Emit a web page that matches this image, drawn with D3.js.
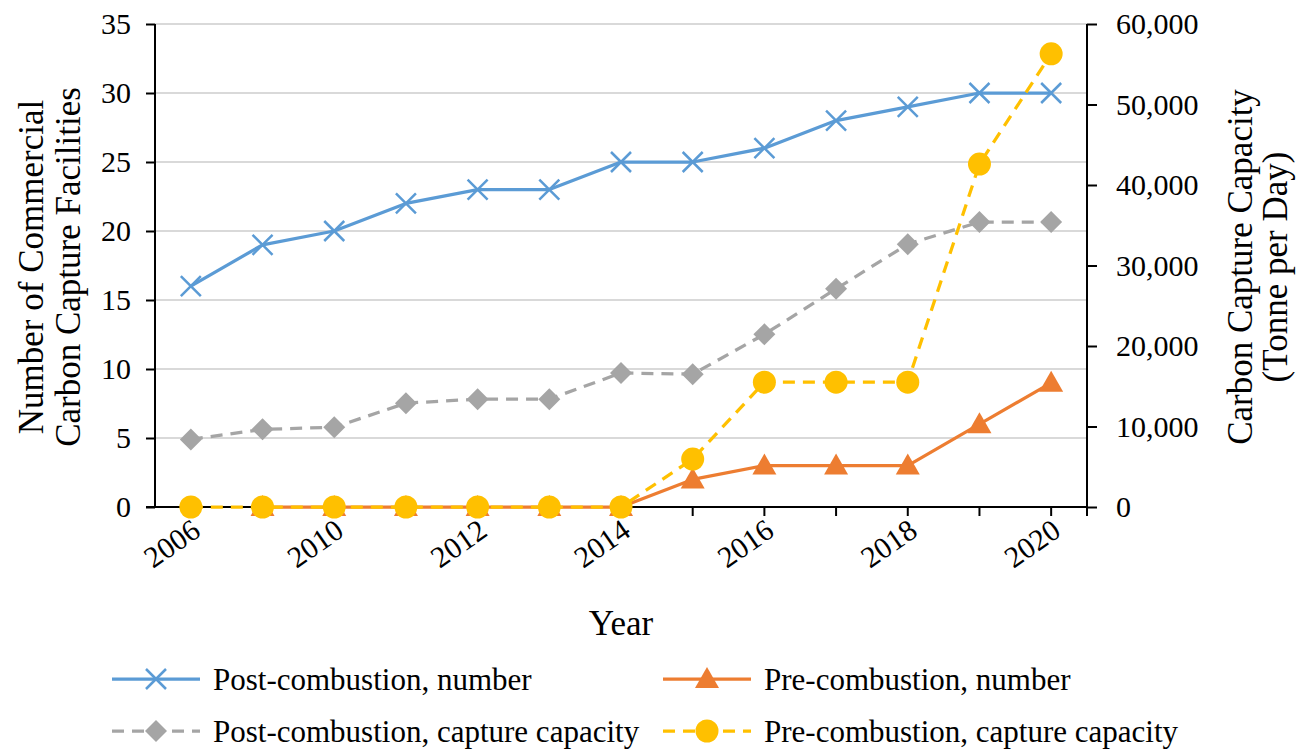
<!DOCTYPE html>
<html><head><meta charset="utf-8">
<script src="https://cdn.jsdelivr.net/npm/d3@7"></script>
<style>
body{margin:0;background:#fff}
text{font-family:"Liberation Serif","Times New Roman",serif;fill:#000}
</style>
</head><body>
<svg id="chart" width="1300" height="753"></svg>
<script>
// ---- data ----
const years = ["2006","2009","2010","2011","2012","2013","2014","2015","2016","2017","2018","2019","2020"];
const yearLabels = ["2006","2010","2012","2014","2016","2018","2020"];
const postNumber = [16,19,20,22,23,23,25,25,26,28,29,30,30];
const preNumber = [null,0,0,0,0,0,0,2,3,3,3,6,9];
const postCapacity = [8400,9650,9900,12900,13400,13400,16650,16500,21450,27100,32650,35400,35400];
const preCapacity = [0,0,0,0,0,0,0,5950,15500,15500,15500,42600,56300];
const leftTicks = [0,5,10,15,20,25,30,35];
const rightTicks = [0,10000,20000,30000,40000,50000,60000];
const seriesNames = ["Post-combustion, number","Pre-combustion, number","Post-combustion, capture capacity","Pre-combustion, capture capacity"];

// ---- layout ----
const svg = d3.select("#chart");
const L = 155, R = 1087, T = 24, B = 507;
const FS = 30, LFS = 31, TFS = 35;
const x = d3.scaleBand().domain(years).range([L, R]);
const cx = d => x(d) + x.bandwidth()/2;
const yL = d3.scaleLinear().domain([0,35]).range([B, T]);
const yR = d3.scaleLinear().domain([0,60000]).range([B, T]);

// gridlines
svg.append("g").selectAll("line").data(leftTicks.filter(d=>d>0)).join("line")
  .attr("x1", L).attr("x2", R).attr("y1", d=>yL(d)).attr("y2", d=>yL(d))
  .attr("stroke", "#d9d9d9").attr("stroke-width", 2);

// left axis
const gL = svg.append("g").attr("transform", `translate(${L},0)`)
  .call(d3.axisLeft(yL).tickValues(leftTicks).tickSize(9).tickPadding(15).tickFormat(d3.format("d")));
gL.select(".domain").attr("stroke","#000").attr("stroke-width",2).attr("d", `M0,${T}V${B}`);
gL.selectAll(".tick line").attr("stroke","#000").attr("stroke-width",2);
gL.selectAll(".tick text").style("font-size", FS+"px").style("font-family",'"Liberation Serif",serif').attr("fill","#000");

// right axis
const gR = svg.append("g").attr("transform", `translate(${R},0)`)
  .call(d3.axisRight(yR).tickValues(rightTicks).tickSize(10).tickPadding(19).tickFormat(d3.format(",")));
gR.select(".domain").attr("stroke","#000").attr("stroke-width",2).attr("d", `M0,${T}V${B}`);
gR.selectAll(".tick line").attr("stroke","#000").attr("stroke-width",2);
gR.selectAll(".tick text").style("font-size", FS+"px").style("font-family",'"Liberation Serif",serif').attr("fill","#000");

// x axis
const gX = svg.append("g").attr("transform", `translate(0,${B})`);
gX.append("line").attr("x1", L-9).attr("x2", R).attr("y1",0).attr("y2",0).attr("stroke","#000").attr("stroke-width",2);
gX.selectAll("line.tk").data(years).join("line").attr("class","tk")
  .attr("x1", d=>cx(d)).attr("x2", d=>cx(d)).attr("y1",0).attr("y2",9).attr("stroke","#000").attr("stroke-width",2);
gX.append("line").attr("x1", R).attr("x2", R).attr("y1",0).attr("y2",9).attr("stroke","#000").attr("stroke-width",2);
gX.selectAll("text").data(yearLabels).join("text")
  .attr("transform", d=>`translate(${cx(d)-1},10) rotate(-35)`)
  .attr("text-anchor","end").attr("dy","0.72em").style("font-size", FS+"px").text(d=>d);

// axis titles
svg.append("text").attr("x", 621).attr("y", 635).attr("text-anchor","middle").style("font-size",TFS+"px").text("Year");
const lt = svg.append("g").attr("transform","translate(0,267)");
lt.append("text").attr("transform","translate(43,0) rotate(-90)").attr("text-anchor","middle").style("font-size",TFS+"px").text("Number of Commercial");
lt.append("text").attr("transform","translate(80,0) rotate(-90)").attr("text-anchor","middle").style("font-size",TFS+"px").text("Carbon Capture Facilities");
const rt = svg.append("g").attr("transform","translate(0,267)");
rt.append("text").attr("transform","translate(1252,0) rotate(-90)").attr("text-anchor","middle").style("font-size",TFS+"px").text("Carbon Capture Capacity");
rt.append("text").attr("transform","translate(1287,0) rotate(-90)").attr("text-anchor","middle").style("font-size",TFS+"px").text("(Tonne per Day)");

// ---- series ----
const colors = ["#5b9bd5","#ed7d31","#a5a5a5","#ffc000"];
const dashes = [null,null,"12,8","12,8"];
const seriesData = [
  {vals: postNumber, y: yL, marker: "x"},
  {vals: preNumber, y: yL, marker: "tri"},
  {vals: postCapacity, y: yR, marker: "dia"},
  {vals: preCapacity, y: yR, marker: "circ"}
];
function drawMarker(g, type, color, px, py){
  if(type==="x"){
    g.append("path").attr("d",`M${px-10},${py-10}L${px+10},${py+10}M${px-10},${py+10}L${px+10},${py-10}`)
      .attr("stroke",color).attr("stroke-width",2.5).attr("fill","none");
  } else if(type==="tri"){
    g.append("path").attr("d",`M${px},${py-12}L${px+12},${py+9}L${px-12},${py+9}Z`).attr("fill",color);
  } else if(type==="dia"){
    g.append("path").attr("d",`M${px},${py-11}L${px+11},${py}L${px},${py+11}L${px-11},${py}Z`).attr("fill",color);
  } else {
    g.append("circle").attr("cx",px).attr("cy",py).attr("r",11.5).attr("fill",color);
  }
}
seriesData.forEach((s,i)=>{
  const g = svg.append("g");
  const pts = years.map((yr,j)=>({yr, v:s.vals[j]}));
  const line = d3.line().defined(d=>d.v!==null).x(d=>cx(d.yr)).y(d=>s.y(d.v));
  g.append("path").attr("d", line(pts)).attr("fill","none").attr("stroke",colors[i])
    .attr("stroke-width",3.25).attr("stroke-dasharray",dashes[i]).attr("stroke-linejoin","round");
  pts.filter(d=>d.v!==null).forEach(d=>drawMarker(g, s.marker, colors[i], cx(d.yr), s.y(d.v)));
});

// ---- legend ----
const legPos = [[112,679],[663,679],[112,731],[663,731]];
seriesData.forEach((s,i)=>{
  const [lx,ly] = legPos[i];
  const g = svg.append("g");
  g.append("line").attr("x1",lx).attr("x2",lx+88).attr("y1",ly).attr("y2",ly)
    .attr("stroke",colors[i]).attr("stroke-width",3.25).attr("stroke-dasharray",dashes[i]);
  drawMarker(g, s.marker, colors[i], lx+44, ly);
  g.append("text").attr("x",lx+101).attr("y",ly).attr("dy","0.35em").style("font-size",LFS+"px").text(seriesNames[i]);
});
</script>
</body></html>
